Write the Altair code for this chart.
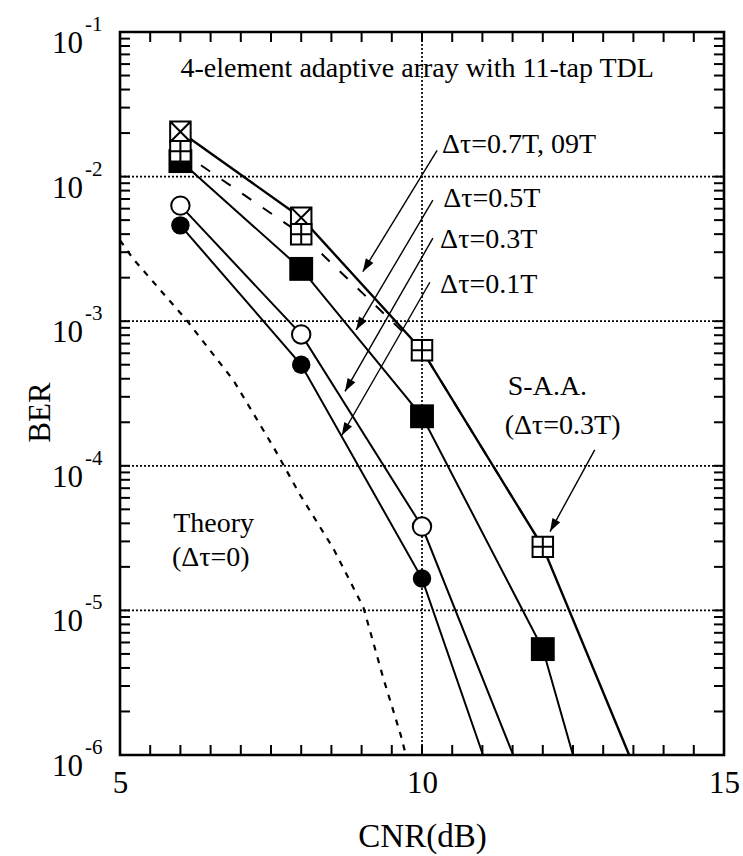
import math
import altair as alt
import pandas as pd

F = "Liberation Serif"
W, H = 604, 723

# ---- data ----
c01_x = [6, 8, 10, 11.01]
c01_y = [4.6e-3, 5.0e-4, 1.66e-5, 1.0e-6]
c03_x = [6, 8, 10, 11.51]
c03_y = [6.3e-3, 8.1e-4, 3.8e-5, 1.0e-6]
s05_x = [6, 8, 10, 12, 12.50]
s05_y = [1.28e-2, 2.3e-3, 2.2e-4, 5.4e-6, 1.0e-6]
x07_x = [6, 8, 10, 12, 13.43]
x07_y = [2.04e-2, 5.2e-3, 6.3e-4, 2.75e-5, 1.0e-6]
p09_x = [6, 8, 10, 12]
p09_y = [1.5e-2, 4.0e-3, 6.3e-4, 2.75e-5]
theory_x = [5.0, 5.22, 6.10, 6.88, 7.54, 7.98, 8.53, 9.03, 9.36, 9.64, 9.72]
theory_y = [3.63e-3, 2.69e-3, 1.02e-3, 3.89e-4, 1.35e-4, 6.31e-5, 2.69e-5, 1.05e-5, 3.39e-6, 1.41e-6, 1.05e-6]

grid_y = [1e-2, 1e-3, 1e-4, 1e-5]
grid_x = [10]
x_ticks = [5.5, 6.0, 6.5, 7.0, 7.5, 8.0, 8.5, 9.0, 9.5, 10.0, 10.5, 11.0, 11.5, 12.0, 12.5, 13.0, 13.5, 14.0, 14.5]
decades = [1e-1, 1e-2, 1e-3, 1e-4, 1e-5, 1e-6]
decade_exp = ["-1", "-2", "-3", "-4", "-5", "-6"]
minor_mult = [2, 3, 4, 5, 6, 7, 8, 9]

labels_text = ["Δτ=0.7T, 09T", "Δτ=0.5T", "Δτ=0.3T", "Δτ=0.1T", "S-A.A.", "(Δτ=0.3T)", "Theory", "(Δτ=0)"]
labels_x = [10.33, 10.35, 10.30, 10.30, 11.42, 11.37, 5.88, 5.86]
labels_y = [1.445e-2, 6.18e-3, 3.20e-3, 1.56e-3, 3.08e-4, 1.66e-4, 3.49e-5, 2.03e-5]
title_text = "4-element adaptive array with 11-tap TDL"
title_x = 9.92
title_y = 4.87e-2

arrow_x1 = [10.25, 10.18, 10.18, 10.13, 12.86]
arrow_y1 = [1.52e-2, 6.87e-3, 3.75e-3, 1.86e-3, 1.29e-4]
arrow_x2 = [9.02, 8.91, 8.725, 8.67, 12.12]
arrow_y2 = [2.2e-3, 8.7e-4, 3.27e-4, 1.62e-4, 3.51e-5]

# ---- build tables ----
def px(x):
    return (x - 5) / 10 * W

def py(y):
    return (-1 - math.log10(y)) / 5 * H

angles = []
for a, b, c, d in zip(arrow_x1, arrow_y1, arrow_x2, arrow_y2):
    dx = px(c) - px(a)
    dy = py(d) - py(b)
    angles.append(math.degrees(math.atan2(dx, -dy)) % 360)

arrows = pd.DataFrame({"x": arrow_x1, "y": arrow_y1, "x2": arrow_x2, "y2": arrow_y2})
heads = pd.DataFrame({"x": arrow_x2, "y": arrow_y2, "ang": angles})

def series(name, xs, ys):
    return pd.DataFrame({"series": name, "x": xs, "y": ys})

solid = pd.concat([series("c01", c01_x, c01_y), series("c03", c03_x, c03_y),
                   series("s05", s05_x, s05_y)])
thick = series("x07", x07_x, x07_y)
dashed = series("p09", p09_x, p09_y)
theory = series("th", theory_x, theory_y)

m_c01 = series("c01", c01_x[:3], c01_y[:3])
m_c03 = series("c03", c03_x[:3], c03_y[:3])
m_s05 = series("s05", s05_x[:4], s05_y[:4])
m_x07 = series("x07", x07_x[:2], x07_y[:2])
m_p09 = series("p09", p09_x, p09_y)

yminor = [m * d for d in decades[1:] for m in minor_mult] + decades[1:-1]
ylab = pd.DataFrame({"y": decades, "base": ["10"] * 6, "exp": decade_exp})
ann = pd.DataFrame({"x": labels_x, "y": labels_y, "t": labels_text})
ttl = pd.DataFrame({"x": [title_x], "y": [title_y], "t": [title_text]})

xscale = alt.Scale(domain=[5, 15], nice=False, zero=False)
yscale = alt.Scale(type="log", domain=[1e-6, 1e-1], nice=False)
xaxis = alt.Axis(values=[5, 10, 15], ticks=False, domain=False, grid=False, labelFont=F,
                 labelFontSize=31, labelColor="black", labelPadding=13, labelFlush=False,
                 title="CNR(dB)", titleFont=F, titleFontSize=33, titleFontWeight="normal",
                 titleColor="black", titleY=91, titleBaseline="alphabetic")
yaxis = alt.Axis(labels=False, ticks=False, domain=False, grid=False, title="BER", titleFont=F,
                 titleFontSize=31, titleFontWeight="normal", titleColor="black", titleAngle=270,
                 titleX=-80, titleY=380, titleAlign="center", titleBaseline="middle")

X = alt.X("x:Q", scale=xscale, axis=xaxis)
Y = alt.Y("y:Q", scale=yscale, axis=yaxis)

grid_h = alt.Chart(pd.DataFrame({"y": grid_y})).mark_rule(
    color="black", strokeDash=[2, 2], strokeWidth=1.7).encode(y=Y, x=alt.value(0), x2=alt.value(W))
grid_v = alt.Chart(pd.DataFrame({"x": grid_x})).mark_rule(
    color="black", strokeDash=[2, 2], strokeWidth=1.7).encode(x=X, y=alt.value(0), y2=alt.value(H))

xt = pd.DataFrame({"x": x_ticks})
tick_b = alt.Chart(xt).mark_rule(color="black", strokeWidth=2).encode(x=X, y=alt.value(H), y2=alt.value(H - 10))
tick_t = alt.Chart(xt).mark_rule(color="black", strokeWidth=2).encode(x=X, y=alt.value(0), y2=alt.value(10))
yt = pd.DataFrame({"y": yminor})
tick_l = alt.Chart(yt).mark_rule(color="black", strokeWidth=2).encode(y=Y, x=alt.value(0), x2=alt.value(10))
tick_r = alt.Chart(yt).mark_rule(color="black", strokeWidth=2).encode(y=Y, x=alt.value(W), x2=alt.value(W - 10))

l_solid = alt.Chart(solid).mark_line(color="black", strokeWidth=2).encode(x=X, y=Y, detail="series:N")
l_thick = alt.Chart(thick).mark_line(color="black", strokeWidth=2.4).encode(x=X, y=Y)
l_dash = alt.Chart(dashed).mark_line(color="black", strokeWidth=2, strokeDash=[11, 14]).encode(x=X, y=Y)
l_theory = alt.Chart(theory).mark_line(color="black", strokeWidth=2.2, strokeDash=[6, 7]).encode(x=X, y=Y)

PLUS = "M-1,-1H1V1H-1ZM0,-1V1M-1,0H1"
CROSS = "M-1,-1H1V1H-1ZM-1,-1L1,1M1,-1L-1,1"
ARROW = "M0,0L-0.34,1L0.34,1Z"

p_c01 = alt.Chart(m_c01).mark_point(shape="circle", filled=True, color="black", size=340, opacity=1).encode(x=X, y=Y)
p_c03 = alt.Chart(m_c03).mark_point(shape="circle", filled=True, fill="white", stroke="black",
                                    strokeWidth=2, size=340, opacity=1).encode(x=X, y=Y)
p_s05 = alt.Chart(m_s05).mark_point(shape="square", filled=True, color="black", size=570, opacity=1).encode(x=X, y=Y)
p_x07 = alt.Chart(m_x07).mark_point(shape=CROSS, filled=True, fill="white", stroke="black",
                                    strokeWidth=2, size=420, opacity=1).encode(x=X, y=Y)
p_p09 = alt.Chart(m_p09).mark_point(shape=PLUS, filled=True, fill="white", stroke="black",
                                    strokeWidth=2, size=420, opacity=1).encode(x=X, y=Y)

a_lines = alt.Chart(arrows).mark_rule(color="black", strokeWidth=1.4).encode(
    x=X, y=Y, x2="x2:Q", y2="y2:Q")
a_heads = alt.Chart(heads).mark_point(shape=ARROW, filled=True, color="black", size=680, opacity=1).encode(
    x=X, y=Y, angle=alt.Angle("ang:Q", scale=None))

t_ann = alt.Chart(ann).mark_text(font=F, fontSize=28, align="left", baseline="alphabetic", color="black").encode(
    x=X, y=Y, text="t:N")
t_ttl = alt.Chart(ttl).mark_text(font=F, fontSize=28, align="center", baseline="alphabetic", color="black").encode(
    x=X, y=Y, text="t:N")
t_base = alt.Chart(ylab).mark_text(font=F, fontSize=31, align="right", baseline="alphabetic", dy=21,
                                   color="black").encode(x=alt.value(-37), y=Y, text="base:N")
t_exp = alt.Chart(ylab).mark_text(font=F, fontSize=21, align="left", baseline="alphabetic", dy=-1,
                                  color="black").encode(x=alt.value(-35), y=Y, text="exp:N")

chart = alt.layer(
    grid_h, grid_v, tick_b, tick_t, tick_l, tick_r,
    l_theory, l_solid, l_thick, l_dash,
    p_s05, p_c01, p_c03, p_x07, p_p09,
    a_lines, a_heads, t_ann, t_ttl, t_base, t_exp,
).properties(
    width=W, height=H,
    padding={"left": 120, "top": 32, "right": 19, "bottom": 101},
    autosize=alt.AutoSizeParams(type="none"),
    background="white",
).configure_view(stroke="black", strokeWidth=2.6)

chart.save("out.html", embed_options={"renderer": "svg", "actions": False})
